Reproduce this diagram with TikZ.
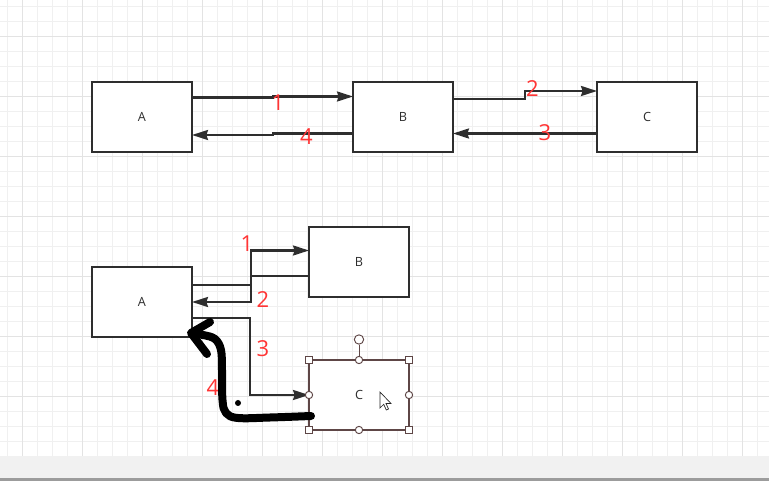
\documentclass[tikz,border=0pt]{standalone}
\usepackage{fontspec}
\setmainfont{Open Sans}
\usetikzlibrary{arrows.meta,calc}
\definecolor{cInk}{HTML}{2E2E2E}
\definecolor{cNum}{HTML}{FF3535}
\definecolor{cSel}{HTML}{5E4646}
\definecolor{cGridMinor}{HTML}{F0F0F0}
\definecolor{cGridMajor}{HTML}{E3E3E3}
\definecolor{cBar}{HTML}{F1F1F1}
\definecolor{cBarLine}{HTML}{9C9C9C}
\tikzset{
  box/.style={draw=cInk, line width=1.6pt, fill=white, minimum width=75pt, minimum height=52.5pt,
    inner sep=0pt, outer sep=0pt, font=\fontsize{9.5}{10}\selectfont, text=cInk},
  selbox/.style={box, draw=cSel, line width=1.4pt},
  conn/.style={draw=cInk, line width=1.6pt, -{Stealth[length=12pt, width=7.5pt, inset=1.2pt]}},
  num/.style={text=cNum, font=\fontsize{16.5}{17}\selectfont, inner sep=0pt},
  handsq/.style={draw=cSel, fill=white, line width=0.7pt, minimum size=5.5pt, inner sep=0pt},
  handci/.style={draw=cSel, fill=white, line width=0.7pt, circle, minimum size=5.5pt, inner sep=0pt},
  scribble/.style={draw=black, line width=6pt, line cap=round, line join=round},
}

\begin{document}
\begin{tikzpicture}[x=0.75pt, y=-0.75pt]
\useasboundingbox (0,0) rectangle (769,481);
% canvas grid and bottom bar
\fill[white] (0,0) rectangle (769,456);
\foreach \x in {7.5,22.5,...,769} \draw[cGridMinor, line width=0.75pt] (\x,0) -- (\x,456);
\foreach \y in {7,22,...,456} \draw[cGridMinor, line width=0.75pt] (0,\y) -- (769,\y);
\foreach \x in {22.5,82.5,...,769} \draw[cGridMajor, line width=0.75pt] (\x,0) -- (\x,456);
\foreach \y in {37,97,...,456} \draw[cGridMajor, line width=0.75pt] (0,\y) -- (769,\y);
\fill[cBar] (0,456) rectangle (769,478.5);
\fill[cBarLine] (0,478.5) rectangle (769,481);

% top row
\node[box] (tA) at (142,117) {A};
\node[box] (tB) at (403,117) {B};
\node[box] (tC) at (647,117) {C};

\draw[conn] ($(tA.east)+(0,-19.5)$) -- ++(81,0) -- ++(0,-1) coordinate (j1) -- (j1 -| tB.west);
\draw[conn] ($(tB.west)+(0,16.5)$) -- ++(-80,0) -- ++(0,1.5) coordinate (j4) -- (j4 -| tA.east);
\draw[conn] ($(tB.east)+(0,-18)$) -- ++(72,0) -- ++(0,-8) coordinate (j2) -- (j2 -| tC.west);
\draw[conn] ($(tC.west)+(0,16.5)$) coordinate (j3) -- (j3 -| tB.east);

\node[num] (t1) at (278,103) {1};
\node[num] (t4) at (306.5,137) {4};
\node[num] (t2) at (532.5,89) {2};
\node[num] (t3) at (545,132.5) {3};

% bottom row
\node[box] (bA) at (142,302) {A};
\node[box] (bB) at (359,262) {B};
\node[selbox] (bC) at (359,395) {C};

\draw[conn] ($(bA.east)+(0,-17)$) -- ++(59,0) |- ($(bB.west)+(0,-11.5)$);
\draw[conn] ($(bB.west)+(0,14)$) -- ++(-58,0) |- (bA.east);
\draw[conn] ($(bA.east)+(0,16)$) -- ++(58,0) |- (bC.west);

\node[num] (b1) at (247,244) {1};
\node[num] (b2) at (263,300) {2};
\node[num] (b3) at (263,349) {3};
\node[num] (b4) at (213,388) {4};

% hand-drawn arrow 4
\draw[scribble] plot[smooth, tension=0.6] coordinates {(311,416) (270,417.5) (238,418) (226,413) (222.5,400) (222,370) (221,350) (215,339) (203,335) (192,334)};
\draw[scribble] (210,322) -- (191,333) -- (207,354);
\fill (238,403) circle[radius=3];

% selection handles on C
\foreach \a in {north west,north east,south west,south east}
  \node[handsq] at (bC.\a) {};
\foreach \a in {north,south,east,west}
  \node[handci] (h-\a) at (bC.\a) {};
\node[handci, minimum size=7pt] (hRot) at ($(bC.north)+(0,-20.5)$) {};
\draw[cSel, line width=0.7pt] (hRot) -- (h-north);

% mouse pointer
\filldraw[fill=white, draw=black!85, line width=0.5pt, shift={(380,392)}]
  (0,0) -- (0,16) -- (3.7,12.3) -- (6.3,18) -- (8.5,17) -- (6,11.5) -- (11,11.5) -- cycle;
\end{tikzpicture}
\end{document}
